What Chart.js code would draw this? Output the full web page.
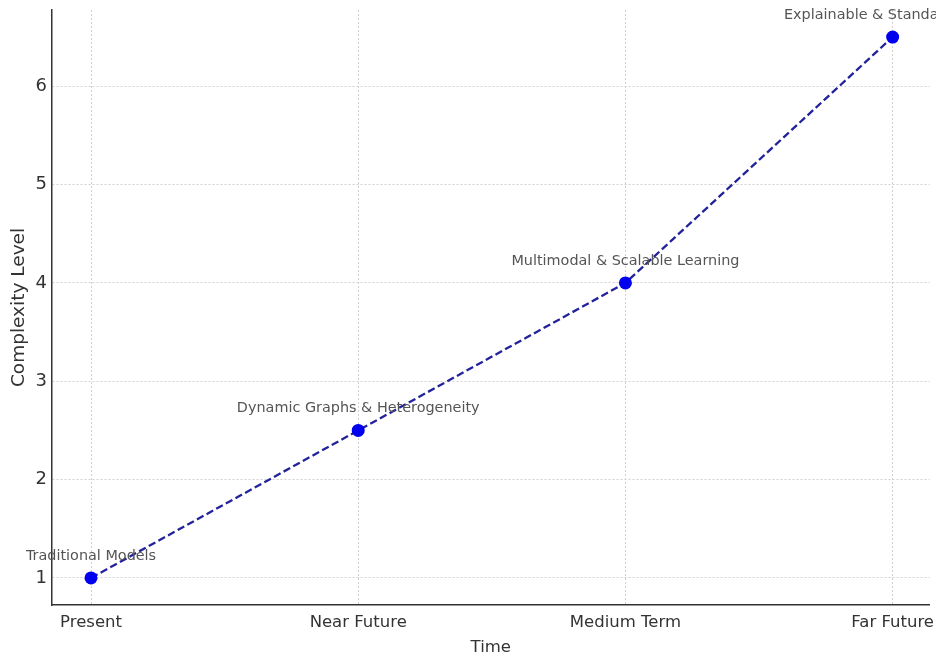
<!DOCTYPE html>
<html>
<head>
<meta charset="utf-8">
<script src="https://cdn.jsdelivr.net/npm/chart.js@4"></script>
<style>
  html, body { margin: 0; padding: 0; background: #fff; }
  #wrap { width: 936px; height: 658px; }
</style>
</head>
<body>
<div id="wrap"><canvas id="chart" width="936" height="658"></canvas></div>
<script>
// Data
const stages = ['Present', 'Near Future', 'Medium Term', 'Far Future'];
const complexity = [1, 2.5, 4, 6.5];
const notes = ['Traditional Models', 'Dynamic Graphs & Heterogeneity', 'Multimodal & Scalable Learning', 'Explainable & Standardization'];
const yTicks = [1, 2, 3, 4, 5, 6];

const FONT = '"DejaVu Sans", sans-serif';

// text above each point
const notePlugin = {
  id: 'notes',
  afterDatasetsDraw(chart) {
    const ctx = chart.ctx;
    const x = chart.scales.x, y = chart.scales.y;
    ctx.save();
    ctx.font = '14.4px ' + FONT;
    ctx.fillStyle = '#555';
    ctx.textAlign = 'center';
    ctx.textBaseline = 'middle';
    notes.forEach((t, i) => {
      ctx.fillText(t, x.getPixelForValue(i), y.getPixelForValue(complexity[i]) - 22);
    });
    ctx.restore();
  }
};

const ctx = document.getElementById('chart').getContext('2d');
new Chart(ctx, {
  type: 'line',
  data: {
    datasets: [{
      data: complexity.map((v, i) => ({ x: i, y: v })),
      borderColor: '#22229a',
      borderWidth: 2.3,
      borderDash: [7.5, 3.5],
      pointRadius: 6.5,
      pointBackgroundColor: '#0000ee',
      pointBorderColor: '#0000ee',
      pointBorderWidth: 0,
      tension: 0,
      fill: false
    }]
  },
  options: {
    responsive: false,
    animation: false,
    layout: { padding: { top: 10, right: 0, left: 0, bottom: 0 } },
    plugins: { legend: { display: false }, tooltip: { enabled: false } },
    scales: {
      x: {
        type: 'linear',
        min: -0.146,
        max: 3.138,
        afterBuildTicks: s => { s.ticks = stages.map((_, i) => ({ value: i })); },
        afterFit: s => { s.height = 53; s.paddingLeft = 0; s.paddingRight = 0; },
        ticks: {
          callback: v => stages[v],
          font: { family: FONT, size: 16.5 },
          color: '#333',
          padding: 8,
          maxRotation: 0,
          autoSkip: false
        },
        grid: { color: '#d0d0d0', drawTicks: false },
        border: { display: true, color: '#333', width: 1.5, dash: [2, 2] },
        title: { display: true, text: 'Time', font: { family: FONT, size: 16.5 }, color: '#333', padding: { top: 0, bottom: 0 } }
      },
      y: {
        min: 0.725,
        max: 6.775,
        afterBuildTicks: s => { s.ticks = yTicks.map(v => ({ value: v })); },
        afterFit: s => { s.width = 52; s.paddingTop = 0; s.paddingBottom = 0; },
        ticks: {
          font: { family: FONT, size: 18 },
          color: '#333',
          padding: 5
        },
        grid: { color: '#d0d0d0', drawTicks: false },
        border: { display: true, color: '#333', width: 1.5, dash: [2, 2] },
        title: { display: true, text: 'Complexity Level', font: { family: FONT, size: 18.5 }, color: '#333', padding: { top: 8, bottom: 0 } }
      }
    }
  },
  plugins: [notePlugin]
});
</script>
</body>
</html>
